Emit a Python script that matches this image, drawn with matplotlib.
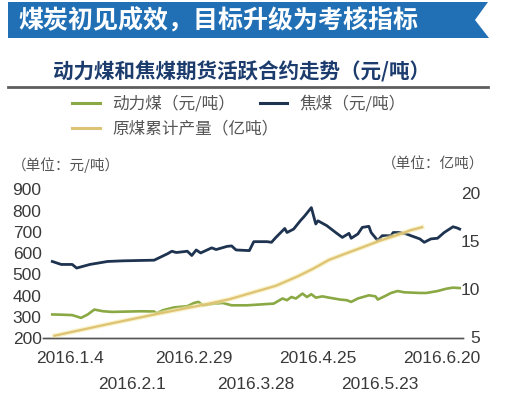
import numpy as np
import pandas as pd
import matplotlib
matplotlib.use("Agg")
import matplotlib.pyplot as plt
from matplotlib.patches import Polygon
from matplotlib.lines import Line2D

plt.rcParams['font.family'] = ['Noto Sans CJK SC', 'DejaVu Sans']

start = pd.Timestamp('2016-01-04')

# 焦煤 (元/吨), days from 2016.1.4
coke_days = [-8, -4, 1, 3, 9, 17, 24, 38, 44, 46, 48, 53, 55, 57, 59, 64, 66, 71, 73, 75,
             81, 83, 89, 91, 93, 97, 98, 101, 104, 106, 109, 111, 112, 116, 120, 123, 126, 127, 130, 132,
             135, 136, 139, 141, 145, 146, 149, 152, 154, 158, 160, 163, 166, 169, 173, 175, 176]
coke_vals = [561, 547, 547, 530, 547, 561, 564, 567, 597, 609, 603, 609, 589, 615, 601, 625, 617, 632, 634, 615,
             612, 654, 654, 651, 674, 716, 697, 713, 752, 775, 814, 737, 752, 729, 697, 674, 693, 670, 690, 721,
             726, 697, 659, 682, 682, 697, 697, 690, 682, 667, 651, 667, 670, 697, 724, 718, 713]

# 动力煤 (元/吨)
thermal_days = [-8, -4, 1, 5, 8, 11, 15, 19, 32, 38, 39, 42, 47, 53, 56, 58, 60, 65,
                69, 73, 80, 86, 92, 96, 98, 100, 102, 105, 107, 109, 111, 114, 117, 122, 125, 127, 130, 135,
                138, 139, 142, 145, 148, 151, 158, 161, 166, 170, 173, 176]
thermal_vals = [312, 311, 309, 296, 312, 335, 327, 324, 327, 326, 317, 332, 345, 351, 366, 371, 355, 363,
                366, 355, 355, 359, 363, 387, 379, 394, 387, 410, 394, 407, 391, 397, 391, 382, 379, 371, 387, 402,
                397, 382, 397, 413, 422, 416, 413, 413, 422, 433, 438, 436]

# 原煤累计产量 (亿吨)
output_days = [-7, 17, 40, 62, 72, 87, 93, 103, 110, 117, 125, 132, 140, 148, 154, 159]
output_vals = [5.1, 6.3, 7.4, 8.4, 8.9, 9.9, 10.3, 11.3, 12.1, 13.0, 13.7, 14.3, 15.0, 15.6, 16.1, 16.4]

upper_dates = ['2016-01-04', '2016-02-29', '2016-04-25', '2016-06-20']
lower_dates = ['2016-02-01', '2016-03-28', '2016-05-23']

def day_of(s):
    return (pd.Timestamp(s) - start).days

def lab(s):
    t = pd.Timestamp(s)
    return f"{t.year}.{t.month}.{t.day}"

W, H = 520, 393
fig = plt.figure(figsize=(W / 100, H / 100), dpi=100)

def fx(x):
    return x / W

def fy(y):
    return 1 - y / H

# banner
banner = Polygon([(fx(8), fy(2)), (fx(488), fy(2)), (fx(475), fy(20)), (fx(489), fy(38)), (fx(8), fy(38))],
                 closed=True, transform=fig.transFigure, facecolor='#2170b6', edgecolor='none')
fig.patches.append(banner)
fig.text(fx(18), fy(21), '煤炭初见成效，目标升级为考核指标', color='white', fontsize=18,
         fontweight='heavy', ha='left', va='center')
fig.text(fx(241), fy(72), '动力煤和焦煤期货活跃合约走势（元/吨）', color='#1d3c6e', fontsize=14.8,
         fontweight='bold', ha='center', va='center')
fig.lines.append(Line2D([fx(8), fx(488)], [fy(87), fy(87)], transform=fig.transFigure,
                        color='#5e5e5e', lw=2))

fig.text(fx(12), fy(165), '（单位：元/吨）', color='#555555', fontsize=10.5, ha='left', va='center')
fig.text(fx(484), fy(165), '（单位：亿吨）', color='#555555', fontsize=10.5, ha='right', va='center')

ax = fig.add_axes([fx(43), fy(338.3), (463 - 43) / W, (338.3 - 189.3) / H])
ax2 = ax.twinx()

green = '#8aa843'
navy = '#1e3350'
gold = '#dfc374'

lg, = ax.plot(thermal_days, thermal_vals, color=green, lw=1.9, solid_joinstyle='round')
lb, = ax.plot(coke_days, coke_vals, color=navy, lw=2.0, solid_joinstyle='round')
ax2.plot(output_days, output_vals, color='#f4eaa8', lw=3.4, alpha=0.6)
ly, = ax2.plot(output_days, output_vals, color=gold, lw=1.6)

ax.set_xlim(-12.2, 177.5)
ax.set_ylim(200, 900)
ax2.set_ylim(4.83, 20.35)

for a in (ax, ax2):
    for s in ['top', 'left', 'right']:
        a.spines[s].set_visible(False)
    a.spines['bottom'].set_color('#555555')
    a.spines['bottom'].set_linewidth(1.0)
    a.patch.set_visible(False)

tick_font = dict(family='Liberation Sans', size=12.5)
ax.set_yticks(range(200, 1000, 100))
ax.set_yticklabels([str(v) for v in range(200, 1000, 100)], fontdict=tick_font, color='#3a3a3a')
ax.tick_params(axis='y', length=0, pad=1)

ax2.set_yticks([5, 10, 15, 20])
ax2.set_yticklabels(['5', '10', '15', '20'], fontdict=tick_font, color='#3a3a3a')
ax2.tick_params(axis='y', length=0, pad=12.2)
for t in ax2.get_yticklabels():
    t.set_horizontalalignment('right')

ax.set_xticks([day_of(d) for d in upper_dates])
ax.set_xticklabels([lab(d) for d in upper_dates], fontdict=tick_font, color='#3a3a3a')
ax.set_xticks([day_of(d) for d in lower_dates], minor=True)
ax.set_xticklabels([lab(d) for d in lower_dates], minor=True, fontdict=tick_font, color='#3a3a3a')
ax.tick_params(axis='x', which='major', length=0, pad=9)
ax.tick_params(axis='x', which='minor', length=0, pad=28)
ax2.tick_params(axis='x', which='both', length=0)

leg_font = {'family': ['Noto Sans CJK SC', 'DejaVu Sans'], 'size': 12}
leg1 = fig.legend([lg, lb], ['动力煤（元/吨）', '焦煤（元/吨）'], loc='center left',
                  bbox_to_anchor=(fx(72), fy(104)), ncol=2, frameon=False, prop=leg_font,
                  handlelength=1.65, handletextpad=0.75, columnspacing=1.5, borderpad=0, borderaxespad=0)
leg2 = fig.legend([ly], ['原煤累计产量（亿吨）'], loc='center left',
                  bbox_to_anchor=(fx(72), fy(129)), frameon=False, prop=leg_font,
                  handlelength=1.65, handletextpad=0.75, borderpad=0, borderaxespad=0)
for lgd in (leg1, leg2):
    for t in lgd.get_texts():
        t.set_color('#555555')
    for h in lgd.get_lines():
        h.set_linewidth(2.2)

fig.savefig('out.png', dpi=100)
